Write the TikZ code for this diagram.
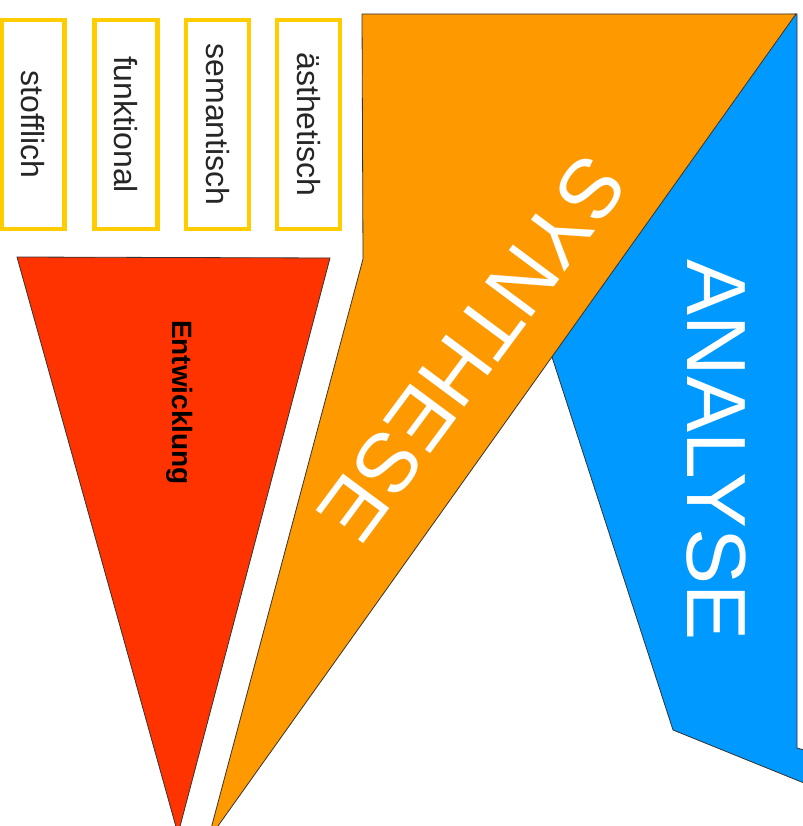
\documentclass[tikz,border=0pt]{standalone}
\usepackage{fontspec}
\setmainfont{Liberation Sans}
\definecolor{aspektgelb}{HTML}{FFCC00}
\definecolor{entwrot}{HTML}{FF3300}
\definecolor{synthorange}{HTML}{FF9900}
\definecolor{analyseblau}{HTML}{0099FF}
\tikzset{
    aspekt/.style={draw=aspektgelb, line width=4.5pt, rotate=-90,
        minimum width=209pt, minimum height=63pt, inner sep=0pt,
        text=black!85, font=\fontsize{32}{38}\selectfont},
    flaeche/.style={draw=black!80, line width=0.8pt},
    gross/.style={text=white, inner sep=0pt, font=\fontsize{84}{90}\selectfont},
}

\begin{document}
\begin{tikzpicture}[x=1pt, y=-1pt]
        \useasboundingbox (0,0) rectangle (802,826);
        % Analyse
        \filldraw[flaeche, fill=analyseblau] (673,730) -- (540,320) -- (780,15) -- (797,14)
            -- (797,748) -- (804,750) -- (804,783) -- cycle;
        \node[gross, rotate=-90] (analyse) at (716,450) {ANALYSE};
        % Synthese
        \filldraw[flaeche, fill=synthorange] (362,14) -- (796,14) -- (208,840)
            -- (363,259) -- cycle;
        \node[gross, rotate=-126.6] (synthese) at (472.5,348.5) {SYNTHESE};
        % Entwicklung
        \filldraw[flaeche, fill=entwrot] (17,257) -- (330,258) -- (178,834) -- cycle;
        \node[rotate=-90, inner sep=0pt, font=\fontsize{28}{32}\selectfont\bfseries]
            (entwicklung) at (179.5,402.5) {Entwicklung};
        % Aspekte
        \node[aspekt] (stofflich) at (33,124.5) {stofflich};
        \node[aspekt] (funktional) at (126,124.5) {funktional};
        \node[aspekt] (semantisch) at (217.5,124.5) {semantisch};
        \node[aspekt] (aesthetisch) at (308.5,124.5) {ästhetisch};
\end{tikzpicture}
\end{document}
